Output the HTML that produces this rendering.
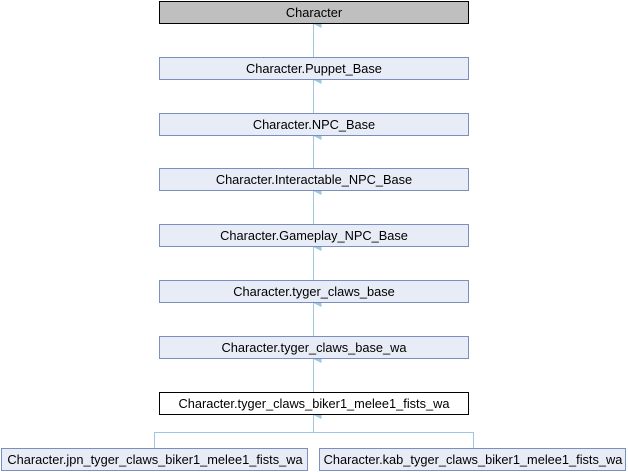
<!DOCTYPE html>
<html><head><style>
body{margin:0;background:#fff;}
svg{display:block;font-family:"Liberation Sans",Arial,sans-serif;font-size:12.8px;}
</style></head><body>
<svg width="628" height="472" viewBox="0 0 628 472">
<defs><marker id="a" markerWidth="8" markerHeight="8" refX="4" refY="0" orient="auto" markerUnits="userSpaceOnUse"><path d="M0,8 L4,0 L8,8 Z" fill="#9cc6e2"/></marker></defs>
<g stroke="#9cc6e2" fill="none">
<line x1="313.5" y1="57" x2="313.5" y2="24" marker-end="url(#a)"/>
<line x1="313.5" y1="113" x2="313.5" y2="80" marker-end="url(#a)"/>
<line x1="313.5" y1="168" x2="313.5" y2="136" marker-end="url(#a)"/>
<line x1="313.5" y1="224" x2="313.5" y2="191" marker-end="url(#a)"/>
<line x1="313.5" y1="280" x2="313.5" y2="247" marker-end="url(#a)"/>
<line x1="313.5" y1="336" x2="313.5" y2="303" marker-end="url(#a)"/>
<line x1="313.5" y1="392" x2="313.5" y2="359" marker-end="url(#a)"/>
<path d="M154.5,448 V432.5 H473.5 V448"/>
<line x1="313.5" y1="432.5" x2="313.5" y2="415" marker-end="url(#a)"/>
</g>
<g stroke-width="1" text-anchor="middle">
<rect x="159.5" y="1.5" width="309" height="22" fill="#bfbfbf" stroke="#000"/>
<text x="314" y="17">Character</text>
<rect x="159.5" y="57.5" width="309" height="22" fill="#e8ecf6" stroke="#7b8fbf"/>
<text x="314" y="73">Character.Puppet_Base</text>
<rect x="159.5" y="113.5" width="309" height="22" fill="#e8ecf6" stroke="#7b8fbf"/>
<text x="314" y="129">Character.NPC_Base</text>
<rect x="159.5" y="168.5" width="309" height="22" fill="#e8ecf6" stroke="#7b8fbf"/>
<text x="314" y="184">Character.Interactable_NPC_Base</text>
<rect x="159.5" y="224.5" width="309" height="22" fill="#e8ecf6" stroke="#7b8fbf"/>
<text x="314" y="240">Character.Gameplay_NPC_Base</text>
<rect x="159.5" y="280.5" width="309" height="22" fill="#e8ecf6" stroke="#7b8fbf"/>
<text x="314" y="296">Character.tyger_claws_base</text>
<rect x="159.5" y="336.5" width="309" height="22" fill="#e8ecf6" stroke="#7b8fbf"/>
<text x="314" y="352">Character.tyger_claws_base_wa</text>
<rect x="159.5" y="392.5" width="309" height="22" fill="#fff" stroke="#000"/>
<text x="314" y="408">Character.tyger_claws_biker1_melee1_fists_wa</text>
<rect x="1.5" y="448.5" width="306" height="22" fill="#e8ecf6" stroke="#7b8fbf"/>
<text x="155" y="464">Character.jpn_tyger_claws_biker1_melee1_fists_wa</text>
<rect x="319.5" y="448.5" width="306" height="22" fill="#e8ecf6" stroke="#7b8fbf"/>
<text x="473" y="464">Character.kab_tyger_claws_biker1_melee1_fists_wa</text>
</g>
</svg>
</body></html>
